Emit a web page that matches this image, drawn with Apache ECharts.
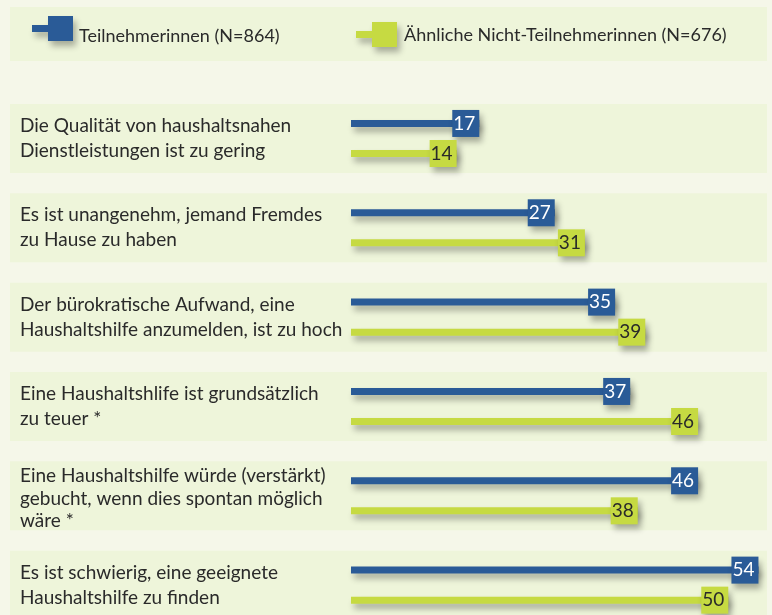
<!DOCTYPE html>
<html>
<head>
<meta charset="utf-8">
<script src="https://cdn.jsdelivr.net/npm/echarts@6/dist/echarts.min.js"></script>
<style>
  html, body { margin: 0; padding: 0; background: #f5f7e9; }
  #main { width: 772px; height: 615px; }
</style>
</head>
<body>
<div id="main"></div>
<script>
// Daten
var categories = [
    'Die Qualität von haushaltsnahen\nDienstleistungen ist zu gering',
    'Es ist unangenehm, jemand Fremdes\nzu Hause zu haben',
    'Der bürokratische Aufwand, eine\nHaushaltshilfe anzumelden, ist zu hoch',
    'Eine Haushaltshlife ist grundsätzlich\nzu teuer *',
    'Eine Haushaltshilfe würde (verstärkt)\ngebucht, wenn dies spontan möglich\nwäre *',
    'Es ist schwierig, eine geeignete\nHaushaltshilfe zu finden'
];
var seriesNames = ['Teilnehmerinnen (N=864)', 'Ähnliche Nicht-Teilnehmerinnen (N=676)'];
var teilnehmerinnen = [17, 27, 35, 37, 46, 54];
var nichtTeilnehmerinnen = [14, 31, 39, 46, 38, 50];

var BLUE = '#2a5b97';
var GREEN = '#c6da42';
var PANEL = '#eef5da';
var TEXT = '#2a2a2a';
var FONT = 'Lato';

var chart = echarts.init(document.getElementById('main'));

var legendIcon = 'path://M0,9L16,9L16,16L0,16Z M16,0L41,0L41,25L16,25Z';
var shadow = {
    shadowBlur: 6,
    shadowColor: 'rgba(0,0,0,0.3)',
    shadowOffsetX: 3,
    shadowOffsetY: 5
};

function valueLabel(bg, fg) {
    return Object.assign({
        show: true,
        position: 'insideRight',
        distance: 0,
        color: fg,
        fontFamily: FONT,
        fontSize: 19,
        backgroundColor: bg,
        width: 19,
        lineHeight: 19,
        padding: [4, 4, 4, 4]
    }, shadow);
}

function legendCfg(name, left, top, padLeft, padTop) {
    return {
        data: [name],
        left: left,
        top: top,
        padding: 0,
        icon: legendIcon,
        itemWidth: 41,
        itemHeight: 25,
        itemStyle: shadow,
        selectedMode: false,
        formatter: '{a|{name}}',
        textStyle: {
            color: TEXT, fontFamily: FONT, fontSize: 18,
            rich: { a: { color: TEXT, fontFamily: FONT, fontSize: 18, padding: [padTop, 0, 0, padLeft] } }
        }
    };
}

var option = {
    backgroundColor: '#f5f7e9',
    animation: false,
    graphic: [
        // Kasten hinter der Legende
        { type: 'rect', z: -10, shape: { x: 10, y: 7, width: 757, height: 54 }, style: { fill: PANEL } }
    ],
    legend: [
        legendCfg(seriesNames[0], 32, 16, 1, 15),
        legendCfg(seriesNames[1], 356, 22, 2, 1)
    ],
    grid: { left: 351, top: 93.8, width: 415, height: 536, outerBoundsMode: 'none' },
    xAxis: { type: 'value', min: 0, max: 55, show: false },
    yAxis: {
        type: 'category',
        inverse: true,
        data: categories,
        axisLine: { show: false },
        axisTick: { show: false },
        axisLabel: {
            align: 'left',
            margin: 331,
            color: TEXT,
            fontFamily: FONT,
            fontSize: 19,
            lineHeight: 25,
            formatter: function (v) {
                // drei Zeilen etwas enger
                if (v.split('\n').length > 2) return '{t|' + v + '}';
                return v;
            },
            rich: { t: { color: TEXT, fontFamily: FONT, fontSize: 19, lineHeight: 22.5, padding: [6, 0, 0, 0] } }
        }
    },
    series: [
        {
            // helle Felder je Kategorie
            type: 'custom',
            silent: true,
            clip: false,
            z: 0,
            data: categories.map(function (c, i) { return [0, i]; }),
            encode: { x: 0, y: 1 },
            renderItem: function (params, api) {
                var p = api.coord([0, api.value(1)]);
                return {
                    type: 'rect',
                    shape: { x: 10, y: p[1] - 34.5, width: api.getWidth() - 15, height: 69 },
                    style: { fill: PANEL }
                };
            }
        },
        {
            name: seriesNames[0],
            type: 'bar',
            z: 2,
            data: teilnehmerinnen,
            barWidth: 7,
            barGap: '329%',
            itemStyle: Object.assign({ color: BLUE }, shadow),
            label: valueLabel(BLUE, '#ffffff')
        },
        {
            name: seriesNames[1],
            type: 'bar',
            z: 2,
            data: nichtTeilnehmerinnen,
            barWidth: 7,
            barGap: '329%',
            itemStyle: Object.assign({ color: GREEN }, shadow),
            label: valueLabel(GREEN, TEXT)
        }
    ]
};

chart.setOption(option);

window.addEventListener('resize', function () {
    chart.resize();
});
</script>
</body>
</html>
